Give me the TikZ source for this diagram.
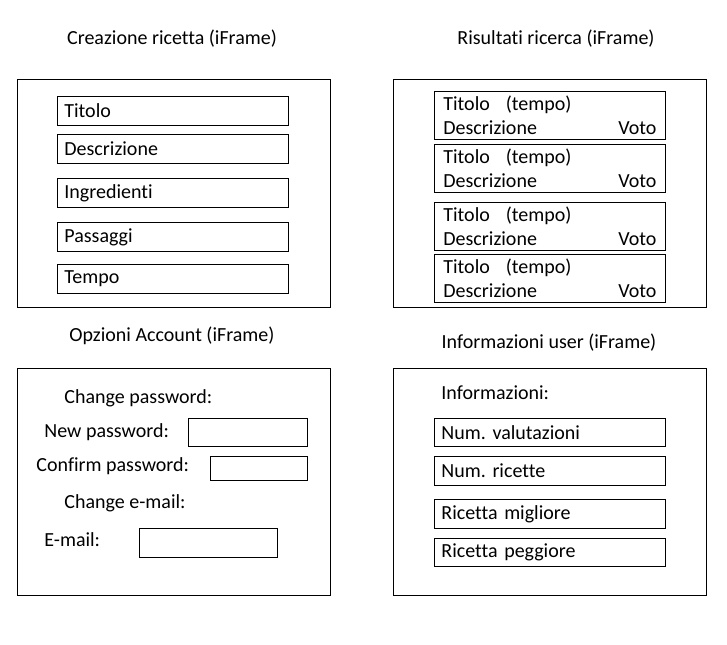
\documentclass[tikz,border=0pt]{standalone}
\usepackage{fontspec}
\setmainfont{Carlito}[Ligatures=NoCommon]
\frenchspacing
\usetikzlibrary{positioning}

\begin{document}
\begin{tikzpicture}[x=0.75pt, y=-0.75pt, line width=0.6pt,
    every node/.style={font=\fontsize{15pt}{17pt}\selectfont},
    field/.style={draw, anchor=north west, minimum height=21.75pt, text width=162.75pt,
        inner xsep=5.25pt, inner ysep=0pt, align=left},
    result/.style={draw, anchor=north west, minimum height=36pt, text width=159.75pt,
        inner xsep=6.75pt, inner ysep=0pt, align=left,
        font=\fontsize{15pt}{17.5pt}\selectfont},
    inputbox/.style={draw, anchor=north west, inner sep=0pt},
    label/.style={anchor=west, inner sep=0pt},
    title/.style={inner sep=0pt}]
    \useasboundingbox (0,0) rectangle (727,645);

    % Creazione ricetta
    \node[title] (t-creaz) at (172,39) {Creazione ricetta (iFrame)};
    \draw (17,79) rectangle (330,307);
    \node[field] (titolo) at (57,96) {Titolo};
    \node[field] (descr) at (57,134) {Descrizione};
    \node[field] (ingr) at (57,178) {Ingredienti};
    \node[field] (pass) at (57,222) {Passaggi};
    \node[field] (tempo) at (57,264) {Tempo};

    % Risultati ricerca
    \node[title] (t-ris) at (556,39) {Risultati ricerca (iFrame)};
    \draw (393,79) rectangle (706,307);
    \node[result] (ris1) at (434,91)
        {Titolo\hspace{12pt}(tempo)\\Descrizione\hspace{0pt plus 1filll}Voto\hspace*{5.25pt}};
    \node[result] (ris2) at (434,144)
        {Titolo\hspace{12pt}(tempo)\\Descrizione\hspace{0pt plus 1filll}Voto\hspace*{5.25pt}};
    \node[result] (ris3) at (434,202)
        {Titolo\hspace{12pt}(tempo)\\Descrizione\hspace{0pt plus 1filll}Voto\hspace*{5.25pt}};
    \node[result] (ris4) at (434,254)
        {Titolo\hspace{12pt}(tempo)\\Descrizione\hspace{0pt plus 1filll}Voto\hspace*{5.25pt}};

    % Opzioni Account
    \node[title] (t-opz) at (172,336) {Opzioni Account (iFrame)};
    \draw (17,368) rectangle (330,595);
    \node[label] (chpw) at (64,398) {Change password:};
    \node[label] (newpw) at (44,432) {New password:};
    \node[inputbox, minimum width=89.25pt, minimum height=21pt] (newpw-in) at (188,418) {};
    \node[label] (confpw) at (36,466) {Confirm password:};
    \node[inputbox, minimum width=72.75pt, minimum height=18pt] (confpw-in) at (210,456) {};
    \node[label] (chmail) at (64,503) {Change e-mail:};
    \node[label] (mail) at (44,540) {E-mail:};
    \node[inputbox, minimum width=103.5pt, minimum height=21.75pt] (mail-in) at (139,528) {};

    % Informazioni user
    \node[title] (t-info) at (549,343) {Informazioni user (iFrame)};
    \draw (393,368) rectangle (706,595);
    \node[label] (info) at (441,393) {Informazioni:};
    \node[field, minimum height=21pt] (nval) at (434,418) {Num. valutazioni};
    \node[field, minimum height=21.5pt] (nric) at (434,456) {Num. ricette};
    \node[field, minimum height=21.75pt] (best) at (434,499) {Ricetta migliore};
    \node[field, minimum height=21pt] (worst) at (434,538) {Ricetta peggiore};
\end{tikzpicture}
\end{document}
